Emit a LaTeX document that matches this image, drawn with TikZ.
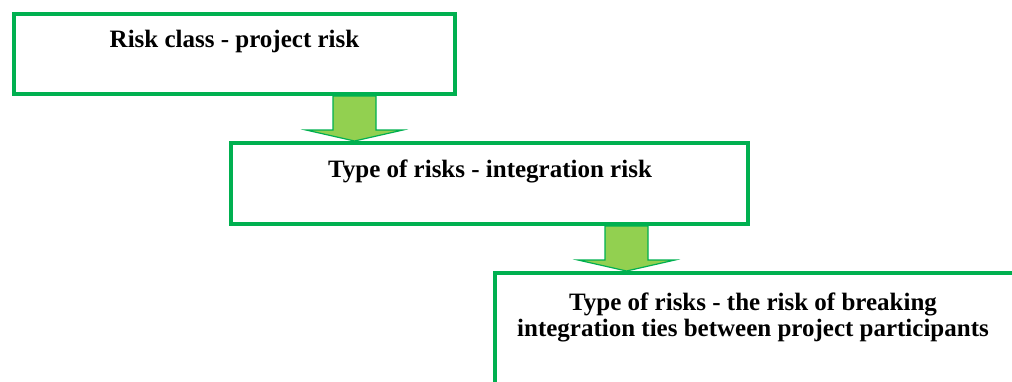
\documentclass[tikz,border=0pt]{standalone}
\usepackage{fontspec}
\setmainfont{Liberation Serif}
\usepackage{xcolor}
\usetikzlibrary{positioning,calc}

\definecolor{riskgreen}{HTML}{00B050}
\definecolor{arrowgreen}{HTML}{92D050}

\tikzset{
  riskbox/.style={draw=riskgreen,line width=4pt,rectangle,inner sep=0pt,outer sep=0pt,anchor=north west},
  risktext/.style={anchor=base,align=center,font=\fontsize{25}{26}\selectfont\bfseries},
  downarrow/.pic={
    \draw[draw=riskgreen,fill=arrowgreen,line width=1.2pt,line join=miter]
      (-21.5,0) -- (-21.5,34) -- (-48.5,34) -- (0,45) -- (48.5,34) -- (21.5,34) -- (21.5,0) -- cycle;
  }
}

\begin{document}
\begin{tikzpicture}[x=1pt,y=-1pt]
  \useasboundingbox (0,0) rectangle (1012,381);
  \clip (0,0) rectangle (1012,381);
  % boxes
  \node[riskbox,minimum width=441pt,minimum height=80pt] (cls) at (14,14) {};
  \node[riskbox,minimum width=517pt,minimum height=81pt] (typ) at (231,143) {};
  \node[riskbox,minimum width=540pt,minimum height=140pt] (brk) at (495,273) {};
  % arrows
  \pic at ($(cls.south)+(120,2)$) {downarrow};
  \pic at ($(typ.south)+(137,2)$) {downarrow};
  % texts
  \node[risktext] (clstext) at (234.5,47) {Risk class - project risk};
  \node[risktext] (typtext) at (490,177) {Type of risks - integration risk};
  \node[risktext] (brktext) at (753,336) {Type of risks - the risk of breaking\\integration ties between project participants};
\end{tikzpicture}
\end{document}
